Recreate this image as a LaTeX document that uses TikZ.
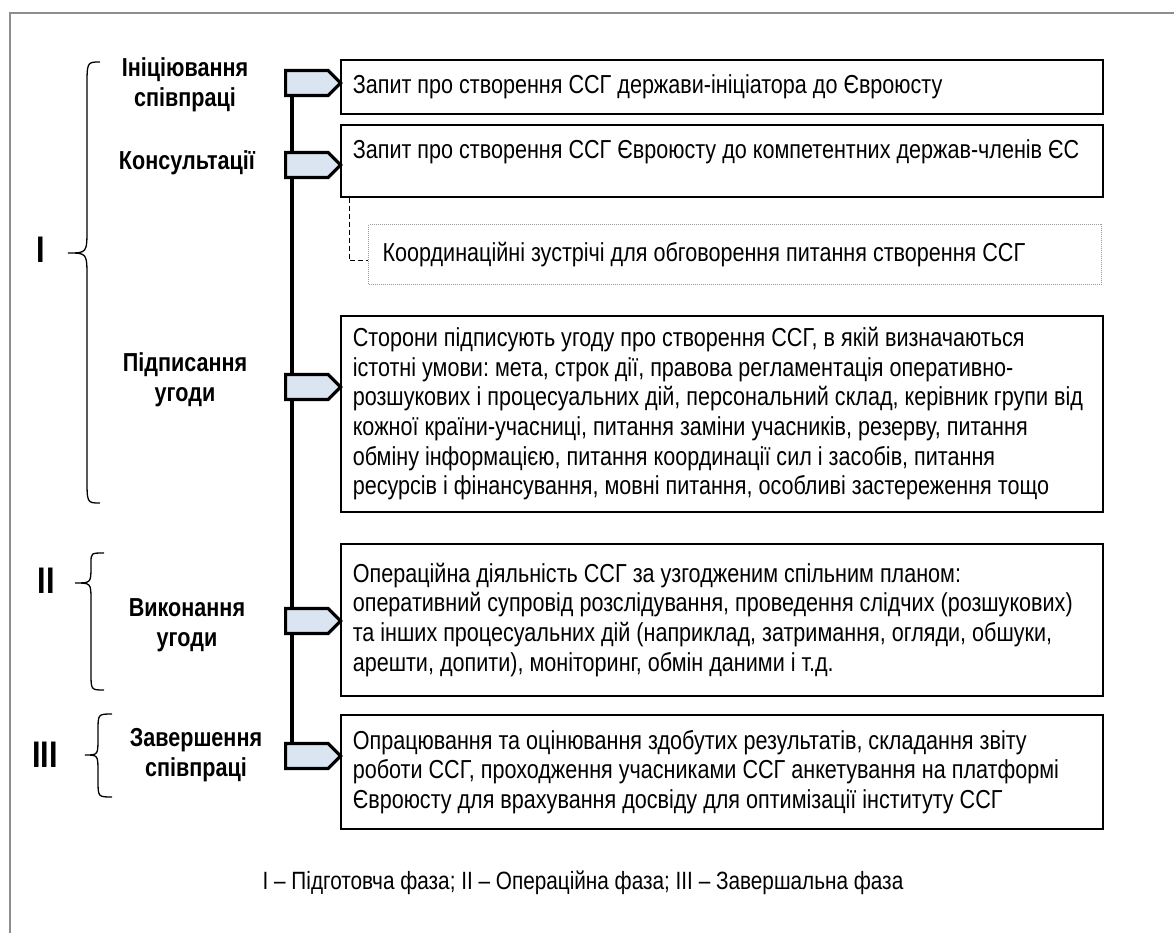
\documentclass[tikz,border=0pt]{standalone}
\usepackage{fontspec}
\setmainfont{Liberation Sans}[FakeStretch=0.83]
\usepackage{tikz}
\usepackage{xcolor}
\usetikzlibrary{calc,
	positioning,
	backgrounds,
	shapes.symbols}

\definecolor{markfill}{HTML}{DBE5F1}
\definecolor{framegray}{HTML}{8E8E8E}
\definecolor{dotgray}{HTML}{9A9A9A}

\newcommand{\boxfont}{\fontsize{26}{29.6}\selectfont\frenchspacing}
\newcommand{\romanfont}{\fontsize{37}{40}\selectfont\bfseries}

\tikzset{
	stagebox/.style={draw, line width=1.6, anchor=north west, text width=738, inner xsep=12, inner ysep=0, align=flush left, font=\boxfont},
	notebox/.style={draw=dotgray, densely dotted, line width=1, anchor=north west, text width=705, inner xsep=14, inner ysep=0, minimum height=60, align=flush left, font=\boxfont},
	marker/.style={signal, signal to=east, signal pointer angle=90, draw, line width=3.2, fill=markfill, minimum width=55, minimum height=25, inner sep=0, anchor=west},
	stagelabel/.style={font=\boxfont\bfseries, align=center},
	phase/.style={font=\romanfont},
	bracket/.style={line width=1.3}
}

\begin{document}
\begin{tikzpicture}[x=1pt, y=-1pt]
	\useasboundingbox (0,0) rectangle (1174,933);
	\draw[framegray, line width=1.5] (1174,13) -- (10,13) -- (10,933);

	\node[stagebox, minimum height=54] (b1) at (340,59) {Запит про створення ССГ держави-ініціатора до Євроюсту};
	\node[stagebox, minimum height=72, text height=34, text depth=38] (b2) at (340,124) {Запит про створення ССГ Євроюсту до компетентних держав-членів ЄС};
	\node[notebox] (c1) at (368,224) {Координаційні зустрічі для обговорення питання створення ССГ};
	\node[stagebox, minimum height=196] (b3) at (340,315) {Сторони підписують угоду про створення ССГ, в якій визначаються\\
		істотні умови: мета, строк дії, правова регламентація оперативно-\\
		розшукових і процесуальних дій, персональний склад, керівник групи від\\
		кожної країни-учасниці, питання заміни учасників, резерву, питання\\
		обміну інформацією, питання координації сил і засобів, питання\\
		ресурсів і фінансування, мовні питання, особливі застереження тощо};
	\node[stagebox, minimum height=152] (b4) at (340,543) {Операційна діяльність ССГ за узгодженим спільним планом:\\
		оперативний супровід розслідування, проведення слідчих (розшукових)\\
		та інших процесуальних дій (наприклад, затримання, огляди, обшуки,\\
		арешти, допити), моніторинг, обмін даними і т.д.};
	\node[stagebox, minimum height=114] (b5) at (340,714) {Опрацювання та оцінювання здобутих результатів, складання звіту\\
		роботи ССГ, проходження учасниками ССГ анкетування на платформі\\
		Євроюсту для врахування досвіду для оптимізації інституту ССГ};

	\draw[line width=1, dash pattern=on 5pt off 3pt] ([xshift=9]b2.south west) |- ([yshift=-6]c1.west);

	\node[marker] (m1) at (284,83) {};
	\node[marker] (m2) at (284,165) {};
	\node[marker] (m3) at (284,387) {};
	\node[marker] (m4) at (284,621) {};
	\node[marker] (m5) at (284,756) {};
	\begin{scope}[on background layer]
		\draw[line width=3.2] ([xshift=8]m1.south west) -- ([xshift=8]m5.north west);
	\end{scope}

	\node[stagelabel] (l1) at (185,85) {Ініціювання\\співпраці};
	\node[stagelabel] (l2) at (187,163) {Консультації};
	\node[stagelabel] (l3) at (185,380) {Підписання\\угоди};
	\node[stagelabel] (l4) at (187,625) {Виконання\\угоди};
	\node[stagelabel] (l5) at (196,755) {Завершення\\співпраці};

	\draw[bracket] (100,62) .. controls (87,62) .. (87,87) -- (87,228) .. controls (87,253) .. (68,253) .. controls (87,253) .. (87,278) -- (87,478) .. controls (87,503) .. (100,503);
	\draw[bracket] (104,553) .. controls (91,553) .. (91,563) -- (91,566) .. controls (91,583) .. (75,583) .. controls (91,583) .. (91,600) -- (91,673) .. controls (91,690) .. (104,690);
	\draw[bracket] (112,714) .. controls (98,714) .. (98,731) -- (98,738) .. controls (98,755) .. (85,755) .. controls (98,755) .. (98,772) -- (98,780) .. controls (98,797) .. (112,797);

	\node[phase] (p1) at (41,250) {I};
	\node[phase] (p2) at (46,581) {II};
	\node[phase] (p3) at (45,755) {III};

	\node[font=\fontsize{25}{29}\selectfont] (cap) at (583,883) {I -- Підготовча фаза; II -- Операційна фаза; III -- Завершальна фаза};
\end{tikzpicture}
\end{document}
